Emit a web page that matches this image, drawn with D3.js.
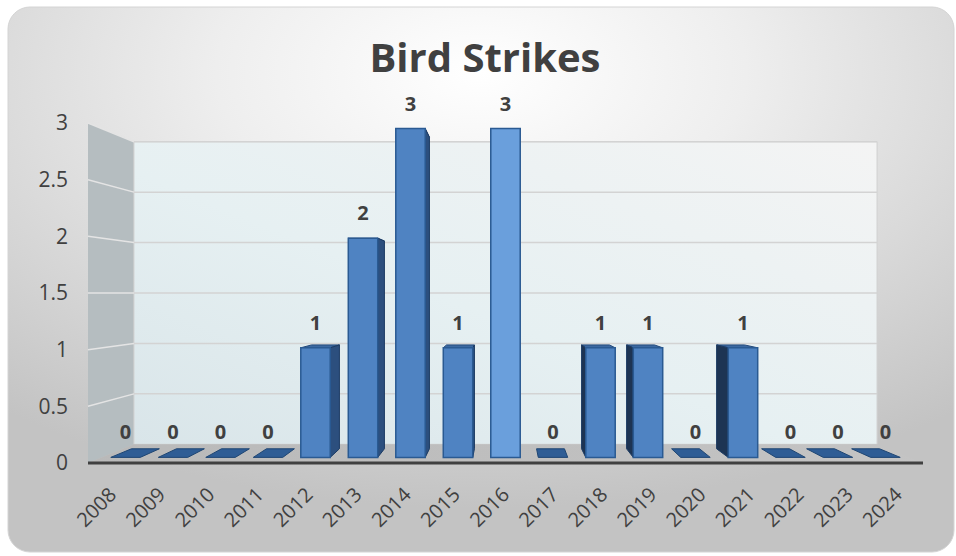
<!DOCTYPE html>
<html>
<head>
<meta charset="utf-8">
<script src="https://cdn.jsdelivr.net/npm/d3@7"></script>
<style>
  body { margin: 0; background: #fff; }
  svg { display: block; }
  text { font-family: "Open Sans", sans-serif; fill: #404040; }
</style>
</head>
<body>
<div id="chart"></div>
<script>
// chart data
var years = ["2008", "2009", "2010", "2011", "2012", "2013", "2014", "2015", "2016",
  "2017", "2018", "2019", "2020", "2021", "2022", "2023", "2024"];
var strikes = [0, 0, 0, 0, 1, 2, 3, 1, 3, 0, 1, 1, 0, 1, 0, 0, 0];
var valueTicks = [0, 0.5, 1, 1.5, 2, 2.5, 3];
var chartTitle = "Bird Strikes";

var svgWidth = 956;
var svgHeight = 556;

var svg = d3.select("#chart")
  .append("svg")
  .attr("width", svgWidth)
  .attr("height", svgHeight);

var defs = svg.append("defs");

var bgGrad = defs.append("radialGradient")
  .attr("id", "bgGrad")
  .attr("cx", "50%").attr("cy", "12%").attr("r", "80%");
bgGrad.append("stop").attr("offset", "0%").attr("stop-color", "#ffffff");
bgGrad.append("stop").attr("offset", "35%").attr("stop-color", "#eeeeee");
bgGrad.append("stop").attr("offset", "100%").attr("stop-color", "#c3c3c3");

var wallGrad = defs.append("linearGradient")
  .attr("id", "wallGrad")
  .attr("x1", "0%").attr("y1", "100%").attr("x2", "100%").attr("y2", "0%");
wallGrad.append("stop").attr("offset", "0%").attr("stop-color", "#d9e5e9");
wallGrad.append("stop").attr("offset", "45%").attr("stop-color", "#e6f0f2");
wallGrad.append("stop").attr("offset", "100%").attr("stop-color", "#f4f4f4");

var floorGrad = defs.append("linearGradient")
  .attr("id", "floorGrad")
  .attr("x1", "0%").attr("y1", "0%").attr("x2", "100%").attr("y2", "0%");
floorGrad.append("stop").attr("offset", "0%").attr("stop-color", "#b9b9b9");
floorGrad.append("stop").attr("offset", "100%").attr("stop-color", "#c4c4c4");

// background panel
svg.append("rect")
  .attr("x", 8).attr("y", 7)
  .attr("width", 946).attr("height", 545)
  .attr("rx", 22)
  .attr("fill", "url(#bgGrad)")
  .attr("stroke", "#d4d4d4");

svg.append("text")
  .attr("x", 485).attr("y", 72)
  .attr("text-anchor", "middle")
  .style("font-size", "40px")
  .style("font-weight", "bold")
  .text(chartTitle);

// scales on the front plane
var xScale = d3.scaleBand().domain(years).range([88, 923]);
var yScale = d3.scaleLinear().domain([0, 3]).range([463, 123]);

// simple perspective: points shrink toward a vanishing point as t goes 0 (front) -> 1 (back wall)
var shrink = 0.11;
var vx = (xScale.range()[0] + xScale.range()[1]) / 2;
var vy = yScale(1.5);
function proj(x, v, t) {
  var s = 1 - shrink * t;
  return [vx + (x - vx) * s, vy + (yScale(v) - vy) * s];
}
var line = d3.line();
function poly(pts) { return line(pts) + "Z"; }

var x0 = xScale.range()[0], x1 = xScale.range()[1];
var vMax = yScale.domain()[1];

// walls and floor
svg.append("path")
  .attr("d", poly([proj(x0, 0, 0), proj(x0, vMax, 0), proj(x0, vMax, 1), proj(x0, 0, 1)]))
  .attr("fill", "#b5bdc0");

svg.append("path")
  .attr("d", poly([proj(x0, 0, 1), proj(x0, vMax, 1), proj(x1, vMax, 1), proj(x1, 0, 1)]))
  .attr("fill", "url(#wallGrad)")
  .attr("stroke", "#cfcfcf");

svg.append("path")
  .attr("d", poly([proj(x0, 0, 0), proj(x0, 0, 1), proj(x1, 0, 1), proj(x1, 0, 0)]))
  .attr("fill", "url(#floorGrad)");

// gridlines
valueTicks.filter(function(v) { return v > 0; }).forEach(function(v) {
  svg.append("path")
    .attr("d", line([proj(x0, v, 1), proj(x1, v, 1)]))
    .attr("stroke", "#d3d3d3").attr("stroke-width", 1.5).attr("fill", "none");
  svg.append("path")
    .attr("d", line([proj(x0, v, 0), proj(x0, v, 1)]))
    .attr("stroke", "#e4e4e4").attr("stroke-width", 1.5).attr("fill", "none");
});

// category axis line
svg.append("line")
  .attr("x1", x0).attr("x2", x1)
  .attr("y1", yScale(0)).attr("y2", yScale(0))
  .attr("stroke", "#404040").attr("stroke-width", 3);

// value labels
svg.selectAll(".ytick")
  .data(valueTicks)
  .enter()
  .append("text")
  .attr("class", "ytick")
  .attr("x", 68)
  .attr("y", function(d) { return yScale(d); })
  .attr("dy", "0.35em")
  .attr("text-anchor", "end")
  .style("font-size", "21px")
  .text(function(d) { return d; });

// category labels
svg.selectAll(".xtick")
  .data(years)
  .enter()
  .append("text")
  .attr("class", "xtick")
  .attr("text-anchor", "end")
  .attr("transform", function(d) {
    var cx = xScale(d) + xScale.bandwidth() / 2 + 5;
    return "translate(" + cx + ",496) rotate(-45)";
  })
  .style("font-size", "20px")
  .text(function(d) { return d; });

// bars
var barW = xScale.bandwidth() * 0.62;
var tFront = 0.3, tBack = 0.76;
var barData = years.map(function(y, i) { return { year: y, value: strikes[i] }; });

barData.forEach(function(d) {
  var c = xScale(d.year) + xScale.bandwidth() / 2;
  var l = c - barW / 2, r = c + barW / 2;
  var v = d.value;
  var g = svg.append("g");
  if (v === 0) {
    g.append("path")
      .attr("d", poly([proj(l, 0, tFront), proj(r, 0, tFront), proj(r, 0, tBack), proj(l, 0, tBack)]))
      .attr("fill", "#2f5d95").attr("stroke", "#1f4673").attr("stroke-width", 1);
  } else {
    g.append("path")
      .attr("d", poly([proj(l, v, tFront), proj(r, v, tFront), proj(r, v, tBack), proj(l, v, tBack)]))
      .attr("fill", "#3b69a2").attr("stroke", "#24497a").attr("stroke-width", 1);
    var off = c - vx;
    if (Math.abs(off) > 1) {
      var sx = off < 0 ? r : l;
      g.append("path")
        .attr("d", poly([proj(sx, 0, tFront), proj(sx, v, tFront), proj(sx, v, tBack), proj(sx, 0, tBack)]))
        .attr("fill", off < 0 ? "#2c4f7e" : "#1d3453")
        .attr("stroke", "#1c3b63").attr("stroke-width", 1);
    }
    var lit = Math.min(1, Math.abs(off) / xScale.bandwidth());
    g.append("path")
      .attr("d", poly([proj(l, 0, tFront), proj(l, v, tFront), proj(r, v, tFront), proj(r, 0, tFront)]))
      .attr("fill", d3.interpolateRgb("#6a9fdc", "#4f83c2")(lit))
      .attr("stroke", "#2a5a92").attr("stroke-width", 1.5);
  }
  var top = proj(c, v, tFront);
  svg.append("text")
    .attr("x", top[0])
    .attr("y", top[1] - 18)
    .attr("text-anchor", "middle")
    .style("font-size", "20px")
    .style("font-weight", "bold")
    .text(v);
});
</script>
</body>
</html>
